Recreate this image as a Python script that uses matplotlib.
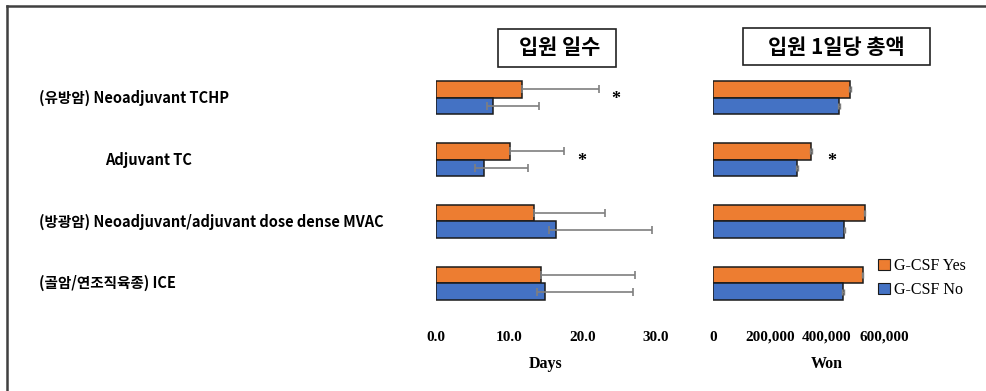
import numpy as np
import matplotlib.pyplot as plt
from matplotlib.patches import Rectangle
from matplotlib.lines import Line2D
from matplotlib.transforms import blended_transform_factory

# Data
categories = ['(유방암) Neoadjuvant TCHP',
              'Adjuvant TC',
              '(방광암) Neoadjuvant/adjuvant dose dense MVAC',
              '(골암/연조직육종) ICE']
label_x = [0.040, 0.106, 0.040, 0.040]  # indent of each label (figure fraction)

days_yes = [11.7, 10.1, 13.4, 14.3]
days_yes_upper = [10.5, 7.4, 9.6, 12.8]
days_no = [7.8, 6.5, 16.4, 14.8]
days_no_lower = [0.9, 1.2, 1.0, 1.0]
days_no_upper = [6.2, 6.0, 13.0, 12.0]

won_yes = [480000, 344000, 532000, 525000]
won_no = [443000, 295000, 461000, 456000]
won_err = [3000, 3000, 3000, 3000]

days_sig = [True, True, False, False]
won_sig = [False, True, False, False]

days_ticks = [0, 10, 20, 30]
days_ticklabels = ['0.0', '10.0', '20.0', '30.0']
won_ticks = [0, 200000, 400000, 600000]
won_ticklabels = ['0', '200,000', '400,000', '600,000']

orange = '#ED7D31'
blue = '#4472C4'
err_color = '#7F7F7F'
kor = ['Noto Sans CJK KR', 'DejaVu Sans']
serif = 'Liberation Serif'

fig = plt.figure(figsize=(9.87, 3.91), dpi=100)
W, H = 987, 391

def fx(px):
    return px / W

def fy(py):
    return 1 - py / H

ax_bottom = fy(314.2)
ax_h = fy(66.8) - ax_bottom
ax1 = fig.add_axes([fx(436), ax_bottom, fx(220), ax_h])
ax2 = fig.add_axes([fx(713), ax_bottom, fx(228), ax_h])

y = np.arange(len(categories))
h = 0.267

# Days panel
ax1.barh(y - h / 2, days_yes, height=h, color=orange, edgecolor='#1a1a1a', linewidth=1.1, zorder=2)
ax1.barh(y + h / 2, days_no, height=h, color=blue, edgecolor='#1a1a1a', linewidth=1.1, zorder=2)
ax1.errorbar(days_yes, y - h / 2, xerr=[np.zeros(4), days_yes_upper], fmt='none',
             ecolor=err_color, elinewidth=1.2, capsize=3, capthick=1.2, zorder=3)
ax1.errorbar(days_no, y + h / 2, xerr=[days_no_lower, days_no_upper], fmt='none',
             ecolor=err_color, elinewidth=1.2, capsize=3, capthick=1.2, zorder=3)
for i in range(len(categories)):
    if days_sig[i]:
        top = max(days_yes[i] + days_yes_upper[i], days_no[i] + days_no_upper[i])
        ax1.annotate('*', (top, y[i]), xytext=(9, -1.5), textcoords='offset points',
                     fontsize=13, fontfamily=serif, fontweight='bold', ha='left', va='center')
ax1.set_xlim(0, 30)
ax1.set_xticks(days_ticks)
ax1.set_xticklabels(days_ticklabels)
ax1.set_xlabel('Days', fontsize=11.5, fontfamily=serif, fontweight='bold', labelpad=9)

# Won panel
ax2.barh(y - h / 2, won_yes, height=h, color=orange, edgecolor='#1a1a1a', linewidth=1.1, zorder=2)
ax2.barh(y + h / 2, won_no, height=h, color=blue, edgecolor='#1a1a1a', linewidth=1.1, zorder=2)
ax2.errorbar(won_yes, y - h / 2, xerr=won_err, fmt='none', ecolor=err_color,
             elinewidth=1, capsize=2.5, capthick=1, zorder=3)
ax2.errorbar(won_no, y + h / 2, xerr=won_err, fmt='none', ecolor=err_color,
             elinewidth=1, capsize=2.5, capthick=1, zorder=3)
for i in range(len(categories)):
    if won_sig[i]:
        top = max(won_yes[i], won_no[i])
        ax2.annotate('*', (top, y[i]), xytext=(12, -1.5), textcoords='offset points',
                     fontsize=13, fontfamily=serif, fontweight='bold', ha='left', va='center')
ax2.set_xlim(0, 800000)
ax2.set_xticks(won_ticks)
ax2.set_xticklabels(won_ticklabels)
ax2.set_xlabel('Won', fontsize=11.5, fontfamily=serif, fontweight='bold', labelpad=9)

for ax in (ax1, ax2):
    ax.set_ylim(len(categories) - 0.5, -0.5)
    ax.set_yticks([])
    for s in ax.spines.values():
        s.set_visible(False)
    ax.tick_params(axis='x', length=0, pad=12)
    for lab in ax.get_xticklabels():
        lab.set_fontfamily(serif)
        lab.set_fontweight('bold')
        lab.set_fontsize(11)
    ax.patch.set_alpha(0)

# category labels
trans = blended_transform_factory(fig.transFigure, ax1.transData)
for i, cat in enumerate(categories):
    fig.text(label_x[i], y[i], cat, transform=trans, fontsize=10.5, family=kor,
             fontweight='bold', ha='left', va='center')

# panel titles in boxes
fig.patches.append(Rectangle((fx(498), fy(67)), fx(118), fy(29) - fy(67), transform=fig.transFigure,
                             fill=False, edgecolor='#222222', linewidth=1.2))
fig.text(fx(560), fy(48), '입원 일수', fontsize=15, family=kor, fontweight='bold',
         ha='center', va='center')
fig.patches.append(Rectangle((fx(743), fy(65)), fx(187), fy(28) - fy(65), transform=fig.transFigure,
                             fill=False, edgecolor='#222222', linewidth=1.2))
fig.text(fx(836), fy(47), '입원 1일당 총액', fontsize=15, family=kor, fontweight='bold',
         ha='center', va='center')

# legend
handles = [Rectangle((0, 0), 1, 1, facecolor=orange, edgecolor='#1a1a1a', linewidth=0.8),
           Rectangle((0, 0), 1, 1, facecolor=blue, edgecolor='#1a1a1a', linewidth=0.8)]
fig.legend(handles, ['G-CSF Yes', 'G-CSF No'], loc='center left',
           bbox_to_anchor=(fx(872), fy(278)), frameon=False,
           prop={'family': serif, 'size': 11.5}, handlelength=0.7, handleheight=0.7,
           handletextpad=0.3, labelspacing=0.5, borderaxespad=0)

# outer frame (top and left edges)
fig.add_artist(Line2D([fx(7), 1.0], [fy(6), fy(6)], color='#404040', linewidth=1.8))
fig.add_artist(Line2D([fx(7), fx(7)], [fy(6), 0.0], color='#404040', linewidth=1.8))

fig.savefig('out.png', dpi=100)
